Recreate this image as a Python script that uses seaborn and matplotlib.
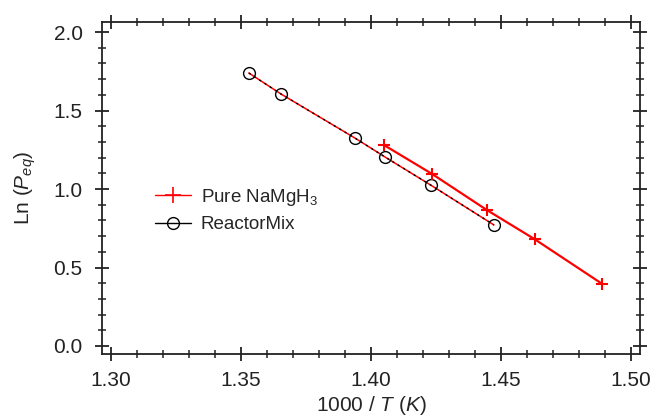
import matplotlib
matplotlib.use("Agg")
import matplotlib.pyplot as plt
import seaborn as sns
from matplotlib.lines import Line2D
from matplotlib.ticker import MultipleLocator

# data
pure_x = [1.405, 1.4235, 1.4446, 1.463, 1.489]
pure_y = [1.28, 1.096, 0.866, 0.68, 0.395]
mix_x = [1.353, 1.3654, 1.3938, 1.4054, 1.423, 1.4473]
mix_y = [1.739, 1.605, 1.325, 1.204, 1.025, 0.771]
series_names = ["Pure NaMgH$_3$", "ReactorMix"]

sns.set_style("ticks")
plt.rcParams['font.family'] = ['Liberation Sans', 'DejaVu Sans']
plt.rcParams['mathtext.fontset'] = 'custom'
plt.rcParams['mathtext.rm'] = 'Liberation Sans'
plt.rcParams['mathtext.it'] = 'Liberation Sans:italic'

fig, ax = plt.subplots(figsize=(6.55, 4.19), dpi=100)
fig.subplots_adjust(left=102/655, right=640/655, top=1-22/419, bottom=1-354/419)

# red fit under ReactorMix, then dotted black connection with circles
sns.lineplot(x=mix_x, y=mix_y, color='red', lw=1.1, sort=False, ax=ax)
sns.lineplot(x=mix_x, y=mix_y, color='black', lw=1.0, sort=False, ax=ax,
             linestyle=(0, (1.5, 3)), marker='o', markersize=8.5,
             markerfacecolor='none', markeredgecolor='black', markeredgewidth=1.0)
sns.lineplot(x=pure_x, y=pure_y, color='red', lw=1.6, sort=False, ax=ax,
             marker='+', markersize=9, markeredgewidth=1.5, markeredgecolor='red')

ax.set_xlim(1.2965, 1.5035)
ax.set_ylim(-0.051, 2.064)
ax.xaxis.set_major_locator(MultipleLocator(0.05))
ax.xaxis.set_minor_locator(MultipleLocator(0.01))
ax.yaxis.set_major_locator(MultipleLocator(0.5))
ax.yaxis.set_minor_locator(MultipleLocator(0.1))
ax.set_xticklabels([f"{v:.2f}" for v in ax.get_xticks()])
ax.set_yticklabels([f"{v:.1f}" for v in ax.get_yticks()])
ax.tick_params(which='both', direction='inout', top=True, right=True,
               labelsize=15, colors='#222222', labelcolor='#222222')
ax.tick_params(which='major', length=10, width=1.3)
ax.tick_params(which='minor', length=6, width=1.1)
ax.tick_params(axis='x', which='major', pad=7)
ax.tick_params(axis='y', which='major', pad=9)
for s in ax.spines.values():
    s.set_linewidth(1.3)
    s.set_color('#222222')

ax.set_xlabel(r"1000 $\mathit{/\ T\ (K)}$", fontsize=15, labelpad=3)
ax.set_ylabel(r"Ln ($\mathit{P}_{\mathit{eq}}$)", fontsize=15, labelpad=11)

handles = [
    Line2D([], [], color='red', lw=1.0, marker='+', markersize=12, markeredgewidth=1.2),
    Line2D([], [], color='black', lw=1.0, marker='o', markersize=8.5,
           markerfacecolor='none', markeredgewidth=1.0),
]
ax.legend(handles, series_names, loc='center left', bbox_to_anchor=(0.0985, 0.434),
          frameon=False, fontsize=13.5, borderpad=0, borderaxespad=0,
          handlelength=1.9, handletextpad=0.55, labelspacing=0.45)

plt.savefig("out.png", dpi=100)
plt.close()
